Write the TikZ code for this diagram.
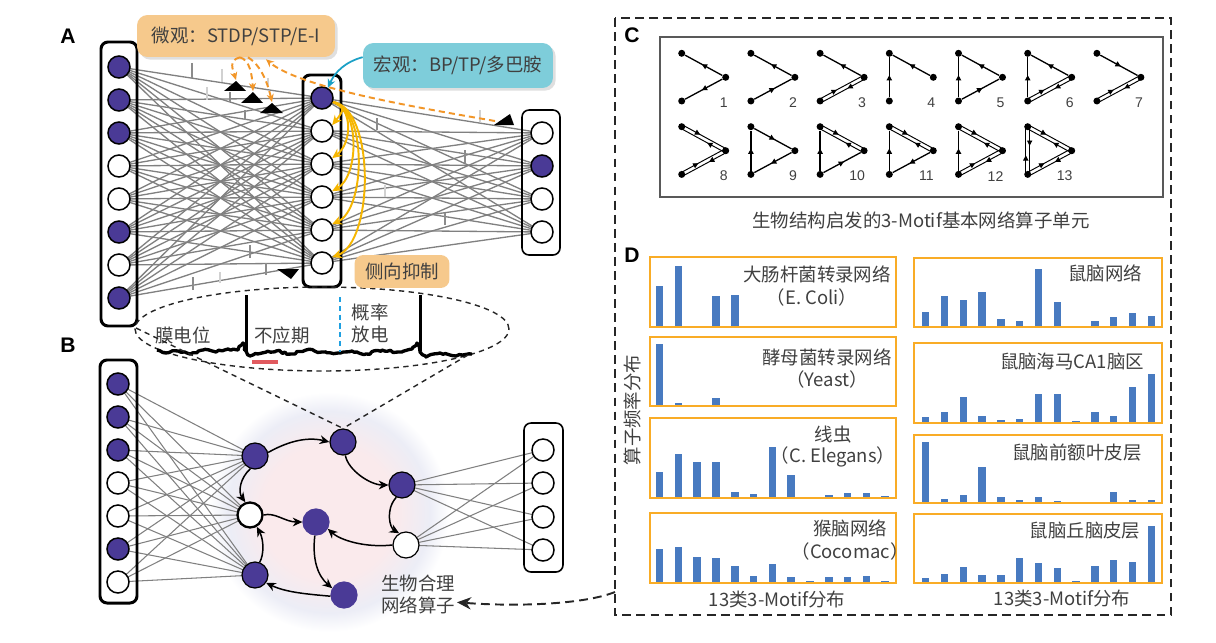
\documentclass[tikz,border=0pt]{standalone}
\usepackage{fontspec}
\setmainfont{Noto Sans CJK SC}
\newfontfamily\latf{Liberation Sans}
\usetikzlibrary{arrows.meta,calc,decorations.markings,decorations.pathmorphing,shadows}
\definecolor{npurple}{RGB}{74,58,150}
\definecolor{lgray}{RGB}{128,128,128}
\definecolor{tanbox}{RGB}{246,201,140}
\definecolor{cyanbox}{RGB}{126,205,218}
\definecolor{tealarr}{RGB}{27,160,198}
\definecolor{goldy}{RGB}{246,182,0}
\definecolor{orng}{RGB}{242,150,40}
\definecolor{obord}{RGB}{249,172,38}
\definecolor{barblue}{RGB}{72,122,192}
\definecolor{txt}{RGB}{64,64,64}
\definecolor{blobpink}{RGB}{250,234,236}
\definecolor{bloblav}{RGB}{236,237,246}
\definecolor{spikeblue}{RGB}{30,160,225}
\definecolor{refred}{RGB}{225,90,95}
\pgfdeclareradialshading{blob}{\pgfpoint{0bp}{0bp}}{color(0bp)=(blobpink); color(14bp)=(blobpink); color(21bp)=(bloblav); color(25bp)=(white); color(50bp)=(white)}
\pgfdeclarelayer{bg}
\pgfsetlayers{bg,main}
\tikzset{
  neu/.style={circle,draw=black,line width=0.85pt,minimum size=0.44cm,inner sep=0pt},
  bneu/.style={circle,draw=black,line width=0.7pt,minimum size=0.52cm,inner sep=0pt,fill=npurple},
  colbox/.style={draw=black,line width=1.7pt,rounded corners=4pt},
  colboxthin/.style={draw=black,line width=0.9pt,rounded corners=4pt},
  gl/.style={draw=lgray,line width=0.75pt},
  gl2/.style={draw=lgray,line width=0.6pt},
  tickd/.style={draw=black!45,line width=1.3pt},
  tickl/.style={draw=black!18,line width=1.3pt},
  odash/.style={draw=orng,line width=1.1pt,dash pattern=on 3.5pt off 2.3pt,-{Stealth[length=4.5pt,width=4pt]}},
  yarr/.style={draw=goldy,line width=1.1pt,-{Stealth[length=5.5pt,width=5pt]}},
  barr/.style={draw=black,line width=0.85pt,-{Stealth[length=5.5pt,width=5pt]}},
  edash/.style={draw=black!85,line width=0.8pt,dash pattern=on 3pt off 2.5pt},
  bigdash/.style={draw=black!85,line width=1.1pt,dash pattern=on 5pt off 3pt},
  lbox/.style={rounded corners=6pt,text=txt,inner sep=0pt,drop shadow={shadow xshift=1.5pt,shadow yshift=-1.5pt,opacity=0.25}},
  lboxns/.style={rounded corners=5pt,text=txt,inner sep=0pt},
  plabel/.style={font=\latf\bfseries\fontsize{12}{14}\selectfont,text=black},
  ttxt/.style={text=txt,inner sep=1pt},
  mdot/.style={circle,fill=black,minimum size=0.14cm,inner sep=0pt},
  me/.style={draw=black,line width=0.75pt},
  me2/.style={draw=black,line width=0.55pt},
  mid/.style={postaction={decorate,decoration={markings,mark=at position #1 with {\arrow{Triangle[length=3pt,width=3pt]}}}}},
  mid/.default=0.55,
  mnum/.style={font=\latf\fontsize{8}{9}\selectfont,text=black!75,inner sep=0pt},
  dbox/.style={draw=obord,line width=1.2pt},
}
\newcommand\medge[3]{%
  \ifcase#3\relax
  \or \draw[me,mid] (#1) -- (#2);
  \or \draw[me,mid] (#2) -- (#1);
  \or \draw[me2,mid=0.4] ($(#1)!1.1pt!90:(#2)$) -- ($(#2)!1.1pt!-90:(#1)$);
      \draw[me2,mid=0.4] ($(#2)!1.1pt!90:(#1)$) -- ($(#1)!1.1pt!-90:(#2)$);
  \fi}
\newcommand\motif[7]{%
  \node[mdot] (m#3t) at (#1,#2) {};
  \node[mdot] (m#3b) at (#1,#2+47.7) {};
  \node[mdot] (m#3r) at (#1+44,#2+24) {};
  \medge{m#3t}{m#3r}{#4}%
  \medge{m#3b}{m#3r}{#5}%
  \medge{m#3t}{m#3b}{#6}%
  \node[mnum] (m#3n) at (#1+#7,#2+49.4) {#3};}
\newcommand\bars[3]{\foreach \h [count=\i] in {#3}{\fill[barblue] ({#1+(\i-1)*18.8-3.75},#2) rectangle ++(7.5,-\h);}}
\begin{document}
\begin{tikzpicture}[x=0.02cm,y=-0.02cm,font=\fontsize{10.5}{12.5}\selectfont]
\useasboundingbox (0,0) rectangle (1216,642);
\begin{pgfonlayer}{bg}
\fill[white] (0,0) rectangle (1216,642);
\shade[shading=blob] (329,512) circle [radius=2.4cm];
\end{pgfonlayer}

% ================= Panel A =================
\node[plabel] (lA) at (68,36) {A};
\draw[colbox] (101,42) rectangle (137,326);
\draw[colbox] (303,75) rectangle (341,287);
\draw[colboxthin] (522,110) rectangle (560,255);
\foreach \y/\fc [count=\i] in {67/npurple,100/npurple,133/npurple,166/white,199/white,232/npurple,265/white,298/npurple}
  \node[neu,fill=\fc] (a\i) at (119,\y) {};
\foreach \y/\fc [count=\i] in {98/npurple,131/white,164/white,197/white,230/white,263/white}
  \node[neu,fill=\fc] (b\i) at (322,\y) {};
\foreach \y/\fc [count=\i] in {133/white,166/npurple,199/white,232/white}
  \node[neu,fill=\fc] (r\i) at (542,\y) {};
\begin{pgfonlayer}{bg}
\foreach \i in {1,...,8}{\foreach \j in {1,...,6}{\draw[gl] (a\i.center) -- (b\j.center);}}
\foreach \i in {1,...,6}{\foreach \j in {1,...,4}{\draw[gl] (b\i.center) -- (r\j.center);}}
\end{pgfonlayer}
\foreach \x/\ya/\yb in {192/63/78,230/92/102,245/110/120,193/277/290,250/245/258,266/263/275,377/118/130,465/150/163,445/213/225}
  \draw[tickd] (\x,\ya) -- (\x,\yb);
\foreach \x/\ya/\yb in {222/69/82,207/87/100,268/78/87,220/272/283,480/110/122,385/185/197}
  \draw[tickl] (\x,\ya) -- (\x,\yb);
% spike triangles
\fill (224,91) -- (246,91) -- (236,81) -- cycle;
\fill (241,103) -- (263,103) -- (253,92) -- cycle;
\fill (260,113) -- (283,113) -- (272,103) -- cycle;
\fill (277,269) -- (299,269) -- (291,279) -- cycle;
\fill (494,125) -- (514,125) -- (510,114) -- cycle;
\coordinate (t1) at (236,80);
\coordinate (t2) at (253,91);
\coordinate (t3) at (272,102);
\coordinate (t5) at (495,121);

% membrane ellipse
\coordinate (ell) at (322,329);
\draw[edash] (ell) ellipse [x radius=3.74cm,y radius=0.84cm];
\coordinate (eL) at (136,328);
\coordinate (eR) at (468,355);
\pgfmathsetseed{7}
\draw[line width=1.9pt,line join=round,decorate,decoration={random steps,segment length=1.7pt,amplitude=0.7pt}]
  (157,350) -- (166,353) -- (178,351) -- (190,354) -- (203,350) -- (216,352) -- (228,349) -- (238,350) -- (243,343) -- (246,351)
  -- (250,356) -- (262,353) -- (276,351) -- (292,354) -- (306,350) -- (322,352) -- (338,353) -- (352,351) -- (366,354)
  -- (382,350) -- (398,352) -- (412,349) -- (417,343) -- (420,352) -- (426,357) -- (440,353) -- (456,356) -- (472,354);
\draw[line width=1.3pt] (246.5,351) -- (246.5,295);
\draw[line width=1.3pt] (420.5,351) -- (420.5,295);
\draw[draw=spikeblue,line width=1.2pt,dash pattern=on 3pt off 2pt] (340,297) -- (340,352);
\draw[draw=refred,line width=2pt] (252,362) -- (278,362);
\node[ttxt] (mp) at (183,335) {膜电位};
\node[ttxt] (ref) at (282,335) {不应期};
\node[ttxt] (pf1) at (370,312) {概率};
\node[ttxt] (pf2) at (370,334) {放电};

% label boxes
\node[lbox,fill=tanbox,minimum width=3.96cm,minimum height=0.84cm] (micro) at (236,36) {微观：STDP/STP/E-I};
\node[lbox,fill=cyanbox,minimum width=3.8cm,minimum height=0.9cm] (macro) at (458,65.5) {宏观：BP/TP/多巴胺};
\node[lboxns,fill=tanbox,minimum width=1.9cm,minimum height=0.66cm] (lat) at (402,271.5) {侧向抑制};

\draw[odash] ($(micro.south)+(4,0)$) .. controls (228,60) and (233,70) .. (t1);
\draw[odash] ($(micro.south)+(4,0)$) .. controls (250,60) and (252,75) .. (t2);
\draw[odash] ($(micro.south)+(12,0)$) .. controls (262,66) and (268,85) .. (t3);
\draw[odash] (t5) .. controls (420,108) and (300,88) .. ($(micro.south)+(30,2)$);
\draw[draw=tealarr,line width=1pt,-{Stealth[length=5pt,width=4.5pt]}] (macro.175) .. controls (345,62) and (335,72) .. (b1.60);
\foreach \k/\d in {2/12,3/20,4/27,5/34,6/42}
  \draw[yarr] (b1.-20) .. controls ($(b1.-20)+(\d,6)$) and ($(b\k.30)+(\d,-15)$) .. (b\k.30);

% ================= Panel B =================
\node[plabel] (lB) at (68,345) {B};
\draw[colbox] (100,360) rectangle (137,603);
\foreach \y/\fc [count=\i] in {384/npurple,417/npurple,450/npurple,483/white,516/white,549/npurple,582/white}
  \node[neu,fill=\fc] (c\i) at (118,\y) {};
\node[bneu] (p1) at (255,456) {};
\node[circle,draw=black,line width=1.3pt,fill=white,minimum size=0.5cm,inner sep=0pt] (p2) at (250,515) {};
\node[bneu] (p3) at (255,575) {};
\node[bneu] (p4) at (343,442) {};
\node[bneu] (p5) at (402,485) {};
\node[bneu,fill=white] (p6) at (406,545) {};
\node[bneu,draw=npurple] (p7) at (316,522) {};
\node[bneu,draw=npurple] (p8) at (344,595) {};
\draw[colboxthin] (524,423) rectangle (563,572);
\foreach \y [count=\i] in {450,483,517,550}
  \node[neu,fill=white] (q\i) at (543,\y) {};
\begin{pgfonlayer}{bg}
\foreach \i in {1,...,7}{\foreach \j in {1,2,3}{\draw[gl2] (c\i.center) -- (p\j.center);}}
\foreach \i in {5,6}{\foreach \j in {1,...,4}{\draw[gl2] (p\i.center) -- (q\j.center);}}
\end{pgfonlayer}
\draw[barr] (p1.15) .. controls (285,443) and (305,436) .. (p4.west);
\draw[barr] (p4.-80) .. controls (348,470) and (370,485) .. (p5.west);
\draw[barr] (p5.-115) .. controls (385,510) and (390,528) .. (p6.120);
\draw[barr] (p6.west) .. controls (365,548) and (340,540) .. (p7.-30);
\draw[barr] (p2.east) .. controls (275,512) and (285,522) .. (p7.west);
\draw[barr] (p1.-110) .. controls (240,478) and (238,492) .. (p2.110);
\draw[barr] (p3.70) .. controls (264,555) and (264,540) .. (p2.-60);
\draw[barr] (p7.-95) .. controls (312,560) and (318,576) .. (p8.150);
\draw[barr] (p8.185) .. controls (305,594) and (285,592) .. (p3.-35);
\draw[edash] (eL) -- (p4.north);
\draw[edash] (eR) -- (p4.north);
\node[ttxt,align=center] (bio) at (418,594) {生物合理\\网络算子};

% ================= Panels C / D =================
\draw[bigdash] (615,18) rectangle (1171,615);
\coordinate (cdw) at (615,592);
\draw[bigdash,-{Stealth[length=8pt,width=7pt]}] (cdw) .. controls (585,604) and (520,607) .. (bio.-12);
\node[plabel] (lC) at (632,35) {C};
\node[plabel] (lD) at (632,255) {D};
\draw[draw=black!65,line width=1.3pt] (660,37) rectangle (1163,197);
\motif{681.7}{53.3}{1}{2}{2}{0}{42}
\motif{750.9}{53.3}{2}{2}{1}{0}{42}
\motif{820.1}{53.3}{3}{2}{3}{0}{42}
\motif{889.3}{53.3}{4}{2}{0}{2}{42}
\motif{958.5}{53.3}{5}{2}{1}{2}{42}
\motif{1027.7}{53.3}{6}{2}{3}{2}{42}
\motif{1096.9}{53.3}{7}{1}{3}{0}{42}
\motif{681.7}{126.7}{8}{3}{3}{0}{42}
\motif{750.9}{126.7}{9}{1}{2}{2}{42}
\motif{820.1}{126.7}{10}{3}{1}{2}{37}
\motif{889.3}{126.7}{11}{3}{2}{2}{37}
\motif{958.5}{126.7}{12}{3}{3}{2}{37}
\motif{1027.7}{126.7}{13}{3}{3}{3}{37}
\node[ttxt] (ccap) at (921,220) {生物结构启发的3-Motif基本网络算子单元};

% bar charts
\bars{659.6}{325.5}{40,60,0,30,31,0,0,0,0,0,0,0,0}
\bars{659.6}{404.5}{61,2,0,7,0,0,0,0,0,0,0,0,0}
\bars{659.6}{496.5}{25,43,35,35,5,3,50,22,0,1.5,3.5,3.5,1}
\bars{659.6}{581.5}{33,35,25,24,16,6,18,4.5,0.5,4.5,5,6,1}
\bars{925.7}{325.5}{14,30,26,34,7,5,57,24,0,4.5,9,13,9.5}
\bars{925.7}{421.5}{4.5,9.5,25,6,2,3,28,28,0.5,9.5,5.5,35,48}
\bars{925.7}{501.5}{60,3,7,35,5,1.5,4.5,0.5,0,0,10,1.5,1.5}
\bars{925.7}{581.5}{4,8,15,6.5,6.5,24,19,13.5,0.5,16,21.5,20,56}
\draw[dbox] (650,257) rectangle (896,327);
\draw[dbox] (650,337) rectangle (896,406);
\draw[dbox] (650,418) rectangle (896,498);
\draw[dbox] (650,513) rectangle (896,583);
\draw[dbox] (914,258) rectangle (1162,327);
\draw[dbox] (914,343) rectangle (1162,423);
\draw[dbox] (914,435) rectangle (1162,503);
\draw[dbox] (914,514) rectangle (1162,583);
\node[ttxt] (d1a) at (817,274) {大肠杆菌转录网络};
\node[ttxt] (d1b) at (812,297) {（E. Coli）};
\node[ttxt] (d2a) at (827,357) {酵母菌转录网络};
\node[ttxt] (d2b) at (827,379) {（Yeast）};
\node[ttxt] (d3a) at (833,435) {线虫};
\node[ttxt] (d3b) at (833,457) {（C. Elegans）};
\node[ttxt] (d4a) at (850,528) {猴脑网络};
\node[ttxt] (d4b) at (850,551) {（Cocomac）};
\node[ttxt] (d5) at (1105,273) {鼠脑网络};
\node[ttxt] (d6) at (1072,362) {鼠脑海马CA1脑区};
\node[ttxt] (d7) at (1077,453) {鼠脑前额叶皮层};
\node[ttxt] (d8) at (1085,531) {鼠脑丘脑皮层};
\node[ttxt] (xl1) at (777,599) {13类3-Motif分布};
\node[ttxt] (xl2) at (1062,598) {13类3-Motif分布};
\node[ttxt,rotate=90] (yl) at (632,410) {算子频率分布};
\end{tikzpicture}
\end{document}
